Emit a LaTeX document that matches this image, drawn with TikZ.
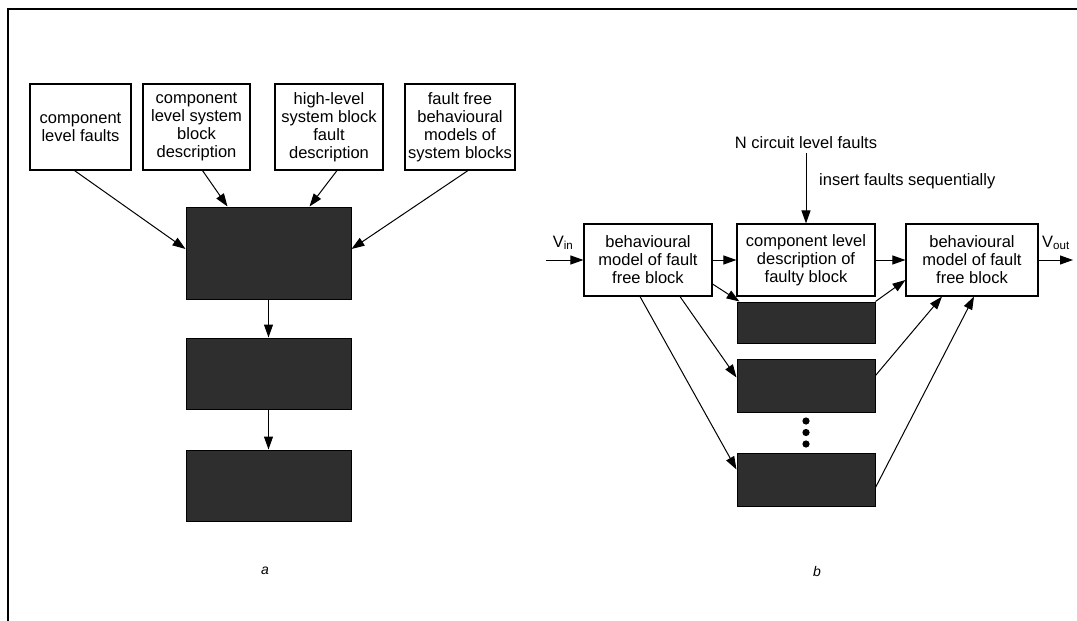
\documentclass[tikz,border=0pt]{standalone}
\usepackage{fontspec}
\setmainfont{Liberation Sans}
\usetikzlibrary{arrows.meta}
\begin{document}
\begin{tikzpicture}[x=1pt,y=-1pt,
  every node/.style={font=\fontsize{16.5}{18}\selectfont},
  box/.style={draw,line width=1.1pt,align=center,inner sep=0pt},
  dbox/.style={draw,line width=1pt,fill=black!82,inner sep=0pt},
  arr/.style={line width=1pt,-{Triangle[length=13pt,width=9pt]}},
  plain/.style={inner sep=0pt}]
\useasboundingbox (0,0) rectangle (1077,621);
% frame
\draw[line width=2pt] (8,621) -- (8,9) -- (1077,9);
% ---------- part a ----------
\node[box,minimum width=101pt,minimum height=86pt] (a1) at (80.5,127) {component\\level faults};
\node[box,minimum width=107pt,minimum height=86pt] (a2) at (196.5,127) {component\\level system\\block\\description};
\node[box,minimum width=108pt,minimum height=86pt] (a3) at (329,127) {high-level\\system block\\fault\\description};
\node[box,minimum width=110pt,minimum height=86pt] (a4) at (460,127) {fault free\\behavioural\\models of\\system blocks};
\node[dbox,minimum width=165pt,minimum height=92pt] (d1) at (268.5,253) {};
\node[dbox,minimum width=165pt,minimum height=71pt] (d2) at (268.5,373.5) {};
\node[dbox,minimum width=165pt,minimum height=71pt] (d3) at (268.5,485.5) {};
\draw[arr] ([xshift=-6pt]a1.south) -- ([yshift=4pt]d1.west);
\draw[arr] ([xshift=6pt]a2.south) -- ([xshift=-41pt]d1.north);
\draw[arr] ([xshift=8pt]a3.south) -- ([xshift=41pt]d1.north);
\draw[arr] ([xshift=8pt]a4.south) -- ([yshift=4pt]d1.east);
\draw[arr] (d1.south) -- (d2.north);
\draw[arr] (d2.south) -- (d3.north);
\node[plain,font=\fontsize{14}{16}\itshape] (la) at (265,571) {a};
% ---------- part b ----------
\node[box,minimum width=128pt,minimum height=72pt] (L) at (648,260) {behavioural\\model of fault\\free block};
\node[box,minimum width=138pt,minimum height=72pt] (M) at (806,260) {component level\\description of\\faulty block};
\node[box,minimum width=132pt,minimum height=72pt] (R) at (972,260) {behavioural\\model of fault\\free block};
\node[plain] (N) at (806,143) {N circuit level faults};
\node[plain,anchor=west] (ins) at (819,181) {insert faults sequentially};
\node[dbox,minimum width=138pt,minimum height=41pt] (b1) at (806,322.5) {};
\node[dbox,minimum width=138pt,minimum height=53pt] (b2) at (806,385.5) {};
\node[dbox,minimum width=138pt,minimum height=53pt] (b3) at (806,479.5) {};
\coordinate (vin) at (546,260);
\coordinate (vout) at (1073,260);
\node[plain] (vinl) at (563,243) {V\textsubscript{in}};
\node[plain] (voutl) at (1056,243) {V\textsubscript{out}};
\draw[arr] (vin) -- (L.west);
\draw[arr] (L.east) -- (M.west);
\draw[arr] (M.east) -- (R.west);
\draw[arr] (R.east) -- (vout);
\draw[arr] ([yshift=-4pt]N.south) -- (M.north);
\draw[arr] ([xshift=-8pt]L.south) -- ([yshift=10pt]b3.west);
\draw[arr] ([xshift=32pt]L.south) -- ([yshift=8pt]b2.west);
\draw[arr] ([yshift=-24pt]L.east) -- ([xshift=3pt]b1.north west);
\draw[arr] (b1.north east) -- ([yshift=-20pt]R.west);
\draw[arr] ([yshift=10pt]b2.east) -- ([xshift=-30pt]R.south);
\draw[arr] ([yshift=-8pt]b3.east) -- ([xshift=2pt]R.south);
\fill (806,421) circle (3.6pt) (806,432.5) circle (3.6pt) (806,444) circle (3.6pt);
\node[plain,font=\fontsize{14}{16}\itshape] (lb) at (817,571) {b};
\end{tikzpicture}
\end{document}
